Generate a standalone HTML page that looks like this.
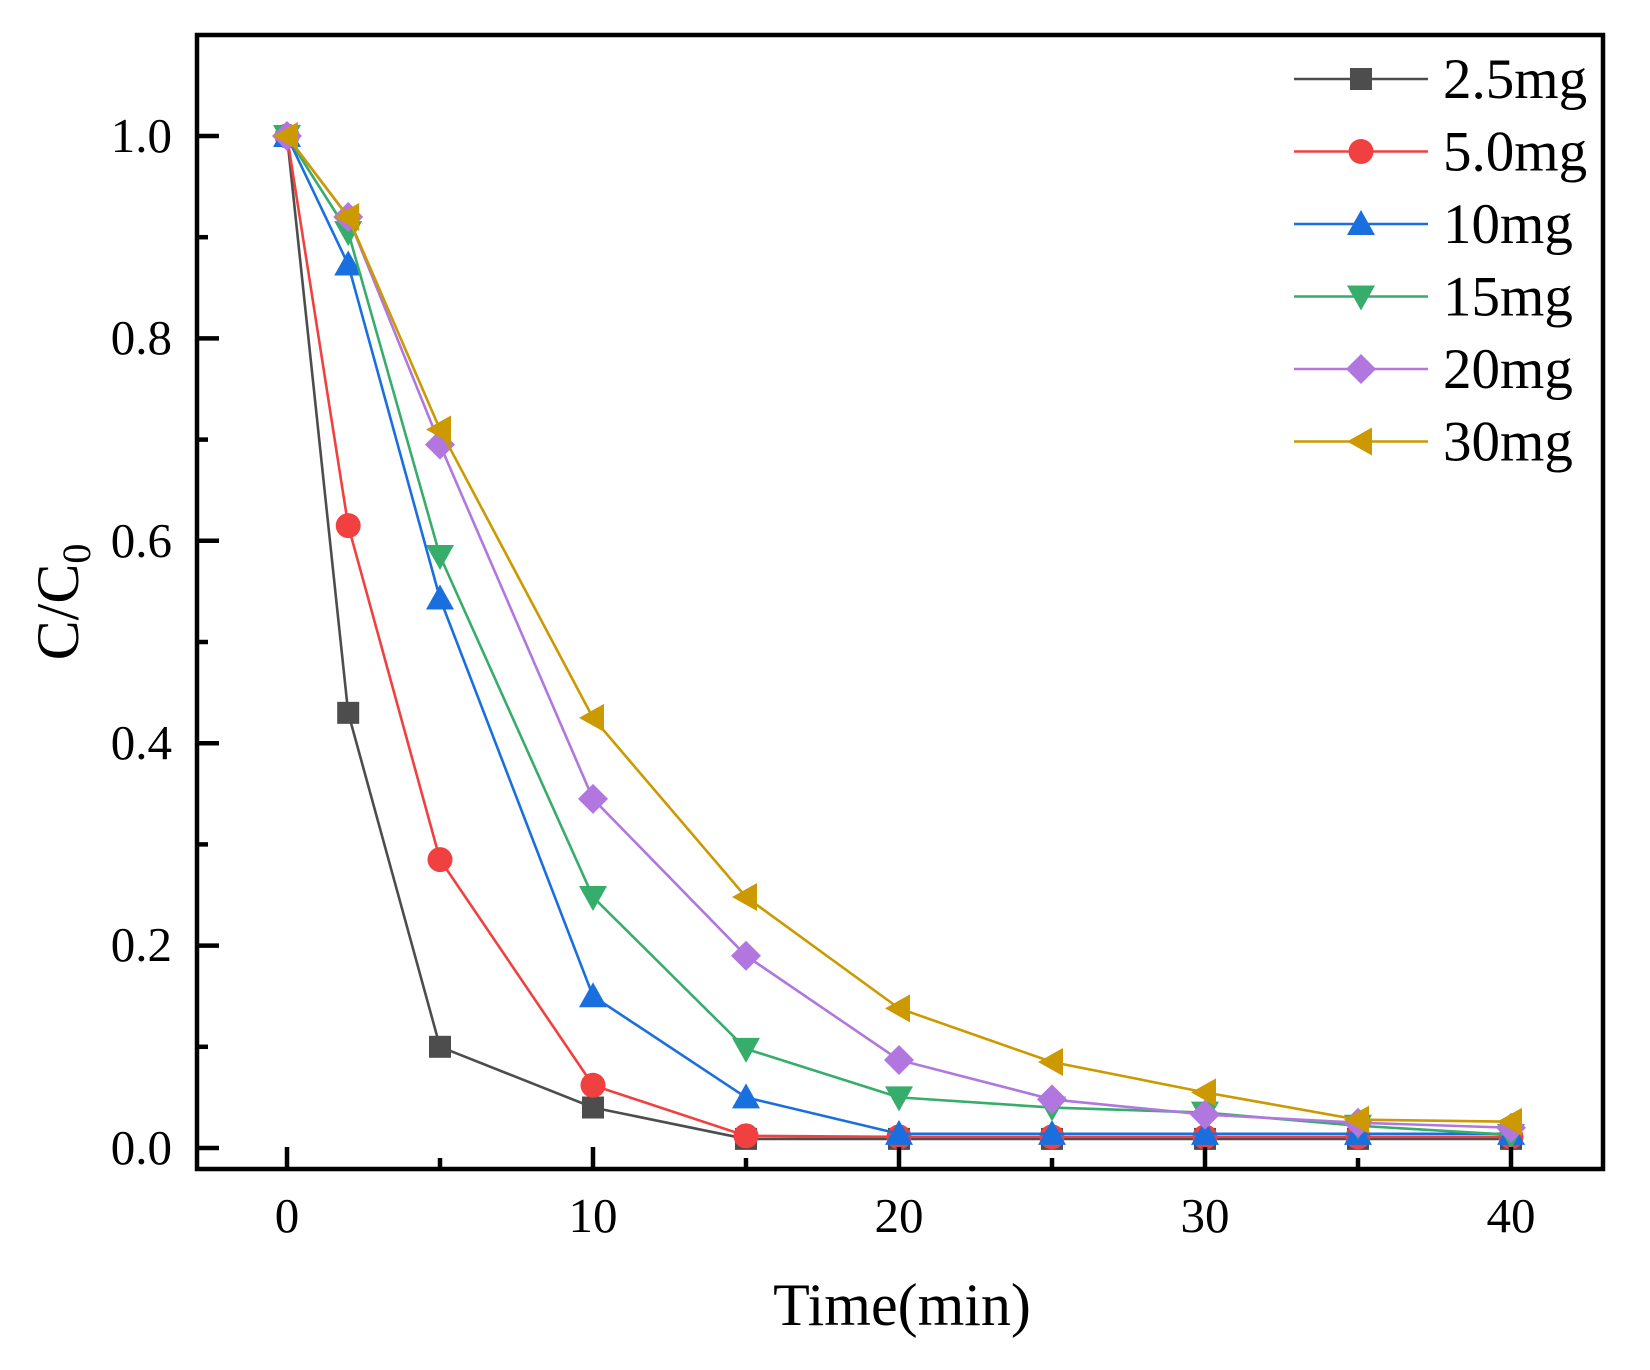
<!DOCTYPE html>
<html><head><meta charset="utf-8"><style>
html,body{margin:0;padding:0;background:#fff;}
svg{display:block;font-family:"Liberation Serif",serif;}
</style></head><body>
<svg id="s" width="1650" height="1370" viewBox="0 0 1650 1370" xmlns="http://www.w3.org/2000/svg">
<rect x="0" y="0" width="1650" height="1370" fill="#fff"/>
<g id="series"></g>
<rect x="197" y="35" width="1406" height="1134" fill="none" stroke="#000" stroke-width="4.5"/>
<g stroke="#000" stroke-width="4.5" id="ticks"></g>
<g font-size="49" text-anchor="end">
<text x="172" y="1164">0.0</text>
<text x="172" y="961">0.2</text>
<text x="172" y="759">0.4</text>
<text x="172" y="557">0.6</text>
<text x="172" y="354">0.8</text>
<text x="172" y="152">1.0</text>
</g>
<g font-size="49" text-anchor="middle">
<text x="287" y="1232">0</text>
<text x="593" y="1232">10</text>
<text x="899" y="1232">20</text>
<text x="1205" y="1232">30</text>
<text x="1511" y="1232">40</text>
</g>
<text x="902" y="1325" font-size="60" text-anchor="middle">Time(min)</text>
<text transform="translate(78,602) rotate(-90)" font-size="60" text-anchor="middle">C/C<tspan font-size="40" dy="12">0</tspan></text>
<g id="legend" font-size="57"></g>
</svg>
<script>
var NS="http://www.w3.org/2000/svg";
function X(t){return 287+30.6*t;}
function Y(v){return 1148-1012*v;}
var ts=[0,2,5,10,15,20,25,30,35,40];
var S=[
["2.5mg","#4d4d4d","sq",[1,.43,.10,.04,.009,.009,.009,.009,.009,.009]],
["5.0mg","#f04040","ci",[1,.615,.285,.062,.012,.011,.011,.011,.011,.011]],
["10mg","#1a6fdf","up",[1,.873,.543,.15,.05,.014,.014,.014,.014,.014]],
["15mg","#37ad6b","dn",[1,.905,.585,.248,.098,.05,.04,.035,.022,.013]],
["20mg","#b177de","di",[1,.92,.695,.345,.19,.087,.048,.033,.025,.02]],
["30mg","#cc9900","lt",[1,.92,.71,.425,.248,.138,.085,.055,.028,.026]]
];
function el(n,a,p){var e=document.createElementNS(NS,n);for(var k in a)e.setAttribute(k,a[k]);p.appendChild(e);return e;}
function mk(type,x,y,c,p){
 if(type=="sq")el("rect",{x:x-11,y:y-11,width:22,height:22,fill:c},p);
 else if(type=="ci")el("circle",{cx:x,cy:y,r:12.5,fill:c},p);
 else if(type=="up")el("polygon",{points:(x)+","+(y-14)+" "+(x-14)+","+(y+11)+" "+(x+14)+","+(y+11),fill:c},p);
 else if(type=="dn")el("polygon",{points:(x)+","+(y+14)+" "+(x-14)+","+(y-11)+" "+(x+14)+","+(y-11),fill:c},p);
 else if(type=="di")el("polygon",{points:x+","+(y-15)+" "+(x+15)+","+y+" "+x+","+(y+15)+" "+(x-15)+","+y,fill:c},p);
 else if(type=="lt")el("polygon",{points:(x-14)+","+y+" "+(x+11)+","+(y-14)+" "+(x+11)+","+(y+14),fill:c},p);
}
var g=document.getElementById("series"),lg=document.getElementById("legend");
S.forEach(function(s,i){
 var pts=ts.map(function(t,j){return X(t)+","+Y(s[3][j]);}).join(" ");
 el("polyline",{points:pts,fill:"none",stroke:s[1],"stroke-width":2.6},g);
 ts.forEach(function(t,j){mk(s[2],X(t),Y(s[3][j]),s[1],g);});
 var ly=79+72.5*i;
 el("line",{x1:1294,y1:ly,x2:1428,y2:ly,stroke:s[1],"stroke-width":2.6},lg);
 mk(s[2],1361,ly,s[1],lg);
 var tx=el("text",{x:1443,y:ly+19},lg);tx.textContent=s[0];
});
var tk=document.getElementById("ticks");
for(var v=0;v<=1.0001;v+=0.1){var y=Y(v);var maj=Math.round(v*10)%2==0;el("line",{x1:197,y1:y,x2:197+(maj?22:11),y2:y},tk);}
for(var t=0;t<=40;t+=5){var x=X(t);var maj=t%10==0;el("line",{x1:x,y1:1169,x2:x,y2:1169-(maj?22:11)},tk);}
</script>
</body></html>
